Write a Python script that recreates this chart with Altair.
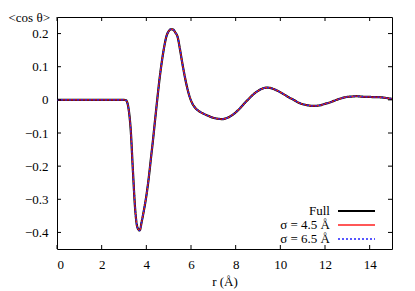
import altair as alt
import pandas as pd

r_vals = [0, 1, 2, 3.0, 3.1, 3.2, 3.3, 3.4, 3.5, 3.6, 3.7, 3.8, 3.9, 4.0, 4.1, 4.2, 4.3, 4.4,
          4.5, 4.6, 4.7, 4.8, 4.9, 5.0, 5.1, 5.2, 5.3, 5.4, 5.5, 5.6, 5.7, 5.8, 5.9, 6.0, 6.1,
          6.2, 6.4, 6.6, 6.8, 7.0, 7.2, 7.4, 7.6, 7.8, 8.0, 8.2, 8.4, 8.6, 8.8, 9.0, 9.2, 9.4,
          9.6, 9.8, 10.0, 10.2, 10.4, 10.6, 10.8, 11.0, 11.2, 11.4, 11.6, 11.8, 12.0, 12.2,
          12.4, 12.6, 12.8, 13.0, 13.2, 13.4, 13.6, 13.8, 14.0, 14.2, 14.4, 14.6, 14.8, 15.0]
cos_full = [0, 0, 0, 0, -0.002, -0.025, -0.09, -0.215, -0.33, -0.385, -0.394, -0.365, -0.33,
            -0.29, -0.24, -0.18, -0.12, -0.055, 0.008, 0.068, 0.118, 0.16, 0.192, 0.207, 0.213,
            0.212, 0.203, 0.19, 0.155, 0.115, 0.078, 0.045, 0.018, -0.002, -0.016, -0.025,
            -0.036, -0.043, -0.049, -0.054, -0.057, -0.058, -0.055, -0.048, -0.038, -0.025,
            -0.01, 0.004, 0.017, 0.027, 0.034, 0.037, 0.035, 0.03, 0.023, 0.015, 0.007, 0.0,
            -0.008, -0.013, -0.016, -0.018, -0.018, -0.016, -0.012, -0.008, -0.003, 0.002,
            0.006, 0.009, 0.01, 0.011, 0.01, 0.009, 0.009, 0.008, 0.008, 0.007, 0.005, 0.003]
cos_s45 = list(cos_full)
cos_s65 = list(cos_full)

series = ["Full", "σ = 4.5 Å", "σ = 6.5 Å"]
colors = ["#000000", "#ff2020", "#2020ff"]
widths = [2.2, 1.2, 1.2]
dashes = [[1, 0], [1, 0], [2, 2]]

x_ticks = [0, 2, 4, 6, 8, 10, 12, 14]
y_ticks = [-0.4, -0.3, -0.2, -0.1, 0, 0.1, 0.2]

W, H = 335, 232
FONT = "Liberation Serif, Times New Roman, serif"
FS = 13

xs = alt.Scale(domain=[0, 15], nice=False, zero=False)
ys = alt.Scale(domain=[-0.45, 0.25], nice=False, zero=False)

x_axis = alt.Axis(values=x_ticks, title="r (Å)", ticks=False, domain=False, grid=False,
                  labelPadding=9, labelFont=FONT, labelFontSize=FS, labelColor="black",
                  labelOverlap=False,
                  titleFont=FONT, titleFontSize=FS, titleFontWeight="normal",
                  titleColor="black", titlePadding=4)
y_axis = alt.Axis(values=y_ticks, title="<cos θ>", ticks=False, domain=False, grid=False,
                  labelPadding=9, labelFont=FONT, labelFontSize=FS, labelColor="black",
                  labelOverlap=False,
                  labelExpr="datum.value == 0 ? '0' : replace(format(datum.value, '.1f'), '-', '\u2212')",
                  titleFont=FONT, titleFontSize=FS, titleFontWeight="normal",
                  titleColor="black", titleAngle=0, titleAlign="left",
                  titleBaseline="alphabetic", titleX=-49, titleY=4)

layers = []
for name, vals, col, w, d in zip(series, [cos_full, cos_s45, cos_s65], colors, widths, dashes):
    df = pd.DataFrame({"r": r_vals, "c": vals})
    layers.append(
        alt.Chart(df).mark_line(color=col, strokeWidth=w, strokeDash=d, interpolate="monotone").encode(
            x=alt.X("r:Q", scale=xs, axis=x_axis),
            y=alt.Y("c:Q", scale=ys, axis=y_axis),
        )
    )

xt = pd.DataFrame({"v": x_ticks})
yt = pd.DataFrame({"v": y_ticks})
tick_layers = [
    alt.Chart(xt).mark_rule(color="black", strokeWidth=1).encode(x=alt.X("v:Q", scale=xs, axis=x_axis), y=alt.value(H), y2=alt.value(H - 4)),
    alt.Chart(xt).mark_rule(color="black", strokeWidth=1).encode(x=alt.X("v:Q", scale=xs, axis=x_axis), y=alt.value(0), y2=alt.value(4)),
    alt.Chart(yt).mark_rule(color="black", strokeWidth=1).encode(y=alt.Y("v:Q", scale=ys, axis=y_axis), x=alt.value(0), x2=alt.value(4)),
    alt.Chart(yt).mark_rule(color="black", strokeWidth=1).encode(y=alt.Y("v:Q", scale=ys, axis=y_axis), x=alt.value(W), x2=alt.value(W - 4)),
]

leg_layers = []
leg_y = [194, 208, 222]
for name, col, w, d, yy in zip(series, colors, widths, dashes, leg_y):
    ldf = pd.DataFrame({"t": [name]})
    leg_layers.append(
        alt.Chart(ldf).mark_text(font=FONT, fontSize=FS, align="right", baseline="middle", color="black").encode(
            text="t:N", x=alt.value(273), y=alt.value(yy)))
    leg_layers.append(
        alt.Chart(ldf).mark_rule(color=col, strokeWidth=w if w > 2 else 1.5, strokeDash=d).encode(
            x=alt.value(281), x2=alt.value(318), y=alt.value(yy)))

chart = alt.layer(*layers, *tick_layers, *leg_layers).properties(
    width=W, height=H,
    autosize=alt.AutoSizeParams(type="none"),
    padding={"left": 49, "top": 9, "right": 15, "bottom": 42},
).configure_view(stroke="black", strokeWidth=1)

chart.save("out.html", embed_options={"renderer": "svg", "actions": False})
